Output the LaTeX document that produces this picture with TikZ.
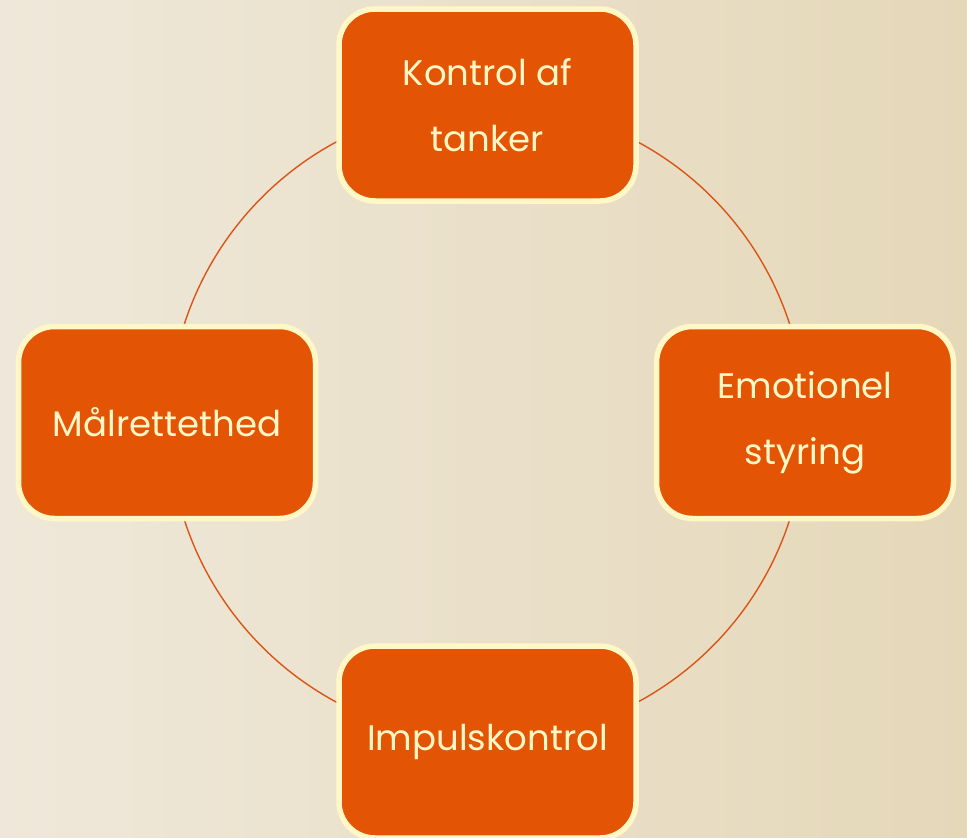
\documentclass[tikz,border=0pt]{standalone}
\usepackage{fontspec}
\setmainfont{Poppins}
\definecolor{bgL}{HTML}{EFE8DA}
\definecolor{bgR}{HTML}{E5D8B9}
\definecolor{boxfill}{HTML}{E35505}
\definecolor{boxline}{HTML}{FFF8C6}
\definecolor{ring}{HTML}{DA5416}
\definecolor{txt}{HTML}{FFF8C6}
\tikzset{
  stepbox/.style={rectangle, rounded corners=36pt, fill=boxfill, draw=boxline,
    line width=5.5pt, minimum width=297pt, minimum height=192pt, text=txt,
    align=center, font=\fontsize{35.5}{66}\selectfont},
  ringline/.style={draw=ring, line width=1.4pt}
}
\begin{document}
\begin{tikzpicture}[x=1pt,y=-1pt]
\useasboundingbox (0,0) rectangle (967,838);
\shade[left color=bgL, right color=bgR] (0,0) rectangle (967,838);
\coordinate (c) at (487,422);
\draw[ringline] (c) circle[radius=318];
\node[stepbox] (top) at (487.5,105) {Kontrol af\\tanker};
\node[stepbox] (right) at (805,422.5) {Emotionel\\styring};
\node[stepbox] (bottom) at (487.5,742) {Impulskontrol};
\node[stepbox] (left) at (167,422.5) {Målrettethed};
\end{tikzpicture}
\end{document}
